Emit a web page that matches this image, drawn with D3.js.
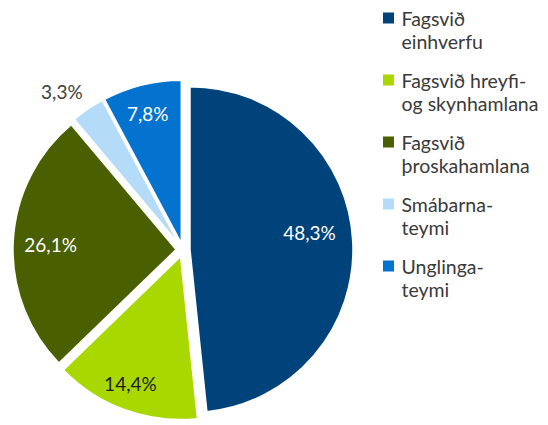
<!DOCTYPE html>
<html>
<head>
<meta charset="utf-8">
<script src="https://cdn.jsdelivr.net/npm/d3@7"></script>
<style>
  html, body { margin: 0; padding: 0; background: #fff; }
  svg { display: block; }
</style>
</head>
<body>
<svg id="chart" width="548" height="425"></svg>
<script>
// ---- data ----
const categories = [
  "Fagsvið einhverfu",
  "Fagsvið hreyfi- og skynhamlana",
  "Fagsvið þroskahamlana",
  "Smábarna-teymi",
  "Unglinga-teymi"
];
const legendLines = [
  ["Fagsvið", "einhverfu"],
  ["Fagsvið hreyfi-", "og skynhamlana"],
  ["Fagsvið", "þroskahamlana"],
  ["Smábarna-", "teymi"],
  ["Unglinga-", "teymi"]
];
const values = [48.3, 14.4, 26.1, 3.3, 7.8];
const valueLabels = ["48,3%", "14,4%", "26,1%", "3,3%", "7,8%"];

// ---- styles / layout ----
const colors = ["#00437A", "#A8D800", "#4A6000", "#B4DCF8", "#0473CF"];
const labelColors = ["#ffffff", "#1e1e1e", "#ffffff", "#404040", "#ffffff"];
const labelRadiusFrac = [0.74, 0.84, 0.77, 1.18, 0.82];
const labelAngleShift = [-5, 1.5, -0.8, -3.5, -0.5]; // degrees
const cx = 183, cy = 250, R = 163, explode = 7;

const svg = d3.select("#chart");
const pie = d3.pie().sort(null).value(d => d).startAngle(0).endAngle(2 * Math.PI);
const arcs = pie(values);
const arc = d3.arc().innerRadius(0).outerRadius(R);

const g = svg.append("g").attr("transform", `translate(${cx},${cy})`);

arcs.forEach((a, i) => {
  const mid = (a.startAngle + a.endAngle) / 2;
  const ox = explode * Math.sin(mid), oy = -explode * Math.cos(mid);
  const sg = g.append("g").attr("transform", `translate(${ox},${oy})`);
  sg.append("path")
    .attr("d", arc(a))
    .attr("fill", colors[i])
    .attr("stroke", "#ffffff")
    .attr("stroke-width", 1.5)
    .attr("stroke-linejoin", "round");
  const la = mid + labelAngleShift[i] * Math.PI / 180;
  const lr = R * labelRadiusFrac[i];
  sg.append("text")
    .attr("x", lr * Math.sin(la))
    .attr("y", -lr * Math.cos(la))
    .attr("text-anchor", "middle")
    .attr("dominant-baseline", "central")
    .attr("font-family", "Lato, 'Open Sans', sans-serif")
    .attr("font-size", 19)
    .attr("fill", labelColors[i])
    .text(valueLabels[i]);
});

// ---- legend ----
const legend = svg.append("g").attr("transform", "translate(383,18)");
const entryGap = 62, lineGap = 23, sw = 11;
legendLines.forEach((lines, i) => {
  const eg = legend.append("g").attr("transform", `translate(0,${i * entryGap})`);
  eg.append("rect")
    .attr("x", 0).attr("y", -sw / 2)
    .attr("width", sw).attr("height", sw)
    .attr("fill", colors[i]);
  lines.forEach((t, j) => {
    eg.append("text")
      .attr("x", 18.5)
      .attr("y", j * lineGap)
      .attr("dominant-baseline", "central")
      .attr("font-family", "Lato, 'Open Sans', sans-serif")
      .attr("font-size", 19.5)
      .attr("fill", "#3a3a3a")
      .text(t);
  });
});
</script>
</body>
</html>
